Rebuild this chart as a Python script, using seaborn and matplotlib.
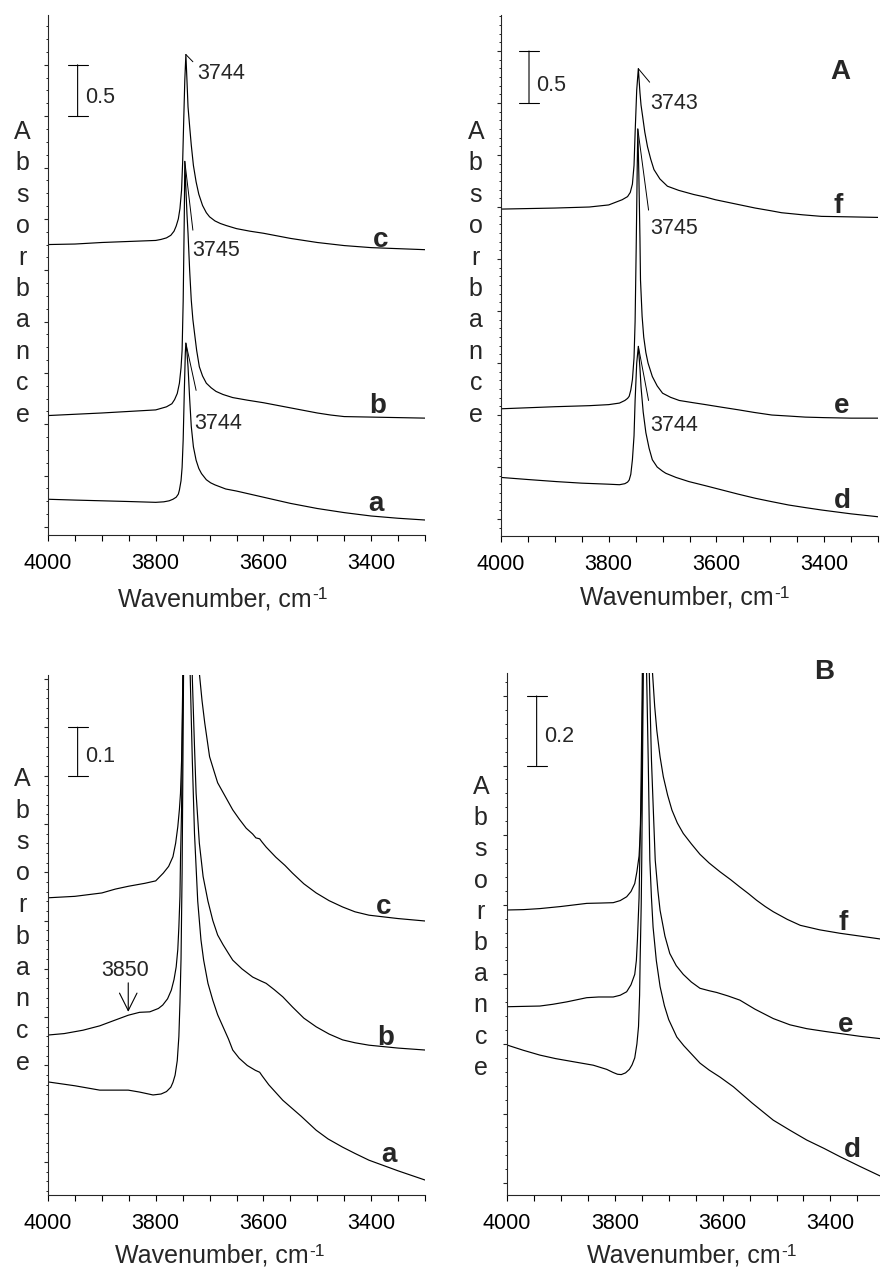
import numpy as np
import pandas as pd
import matplotlib
matplotlib.use("Agg")
import matplotlib.pyplot as plt
import seaborn as sns
from matplotlib.ticker import MultipleLocator, NullFormatter, FixedLocator

# ---------------- data ----------------
# Top-left panel (A, samples a-c)
tl_a_wn = [4000, 3950, 3900, 3850, 3800, 3785, 3775, 3768, 3762, 3758, 3756, 3753, 3751, 3749, 3747, 3745, 3744, 3742, 3740, 3737, 3734, 3730, 3725, 3720, 3715, 3706, 3698, 3690, 3680, 3670, 3650, 3625, 3600, 3575, 3550, 3525, 3500, 3450, 3400, 3350, 3300]
tl_a_ab = [0.27, 0.262, 0.255, 0.248, 0.24, 0.245, 0.255, 0.27, 0.29, 0.32, 0.36, 0.45, 0.58, 0.85, 1.30, 1.70, 1.79, 1.70, 1.56, 1.25, 0.98, 0.78, 0.65, 0.57, 0.52, 0.46, 0.43, 0.41, 0.39, 0.37, 0.35, 0.32, 0.29, 0.26, 0.23, 0.205, 0.18, 0.14, 0.107, 0.085, 0.068]
tl_b_wn = [4000, 3900, 3800, 3780, 3770, 3765, 3760, 3756, 3753, 3751, 3749, 3747, 3746, 3744, 3742, 3740, 3737, 3734, 3731, 3728, 3724, 3719, 3713, 3706, 3697, 3688, 3675, 3657, 3630, 3600, 3575, 3550, 3525, 3500, 3475, 3450, 3400, 3350, 3300]
tl_b_ab = [1.085, 1.11, 1.14, 1.17, 1.20, 1.24, 1.30, 1.40, 1.55, 1.72, 2.2, 3.0, 3.56, 3.3, 3.05, 2.86, 2.5, 2.21, 2.02, 1.89, 1.72, 1.56, 1.47, 1.40, 1.355, 1.32, 1.29, 1.26, 1.235, 1.21, 1.185, 1.16, 1.135, 1.11, 1.09, 1.075, 1.07, 1.065, 1.06]
tl_c_wn = [4000, 3950, 3900, 3850, 3800, 3790, 3780, 3772, 3766, 3762, 3758, 3755, 3752, 3750, 3748, 3746, 3744, 3742, 3740, 3737, 3734, 3730, 3725, 3720, 3713, 3706, 3700, 3690, 3680, 3669, 3650, 3625, 3600, 3575, 3550, 3525, 3500, 3450, 3400, 3350, 3300]
tl_c_ab = [2.75, 2.755, 2.77, 2.78, 2.79, 2.80, 2.815, 2.84, 2.88, 2.93, 3.00, 3.10, 3.28, 3.55, 3.96, 4.35, 4.60, 4.35, 4.09, 3.90, 3.72, 3.52, 3.36, 3.24, 3.13, 3.06, 3.02, 2.98, 2.955, 2.935, 2.905, 2.88, 2.86, 2.835, 2.81, 2.79, 2.77, 2.74, 2.72, 2.71, 2.70]

# Top-right panel (A, samples d-f)
tr_d_wn = [4000, 3950, 3897, 3850, 3800, 3780, 3770, 3765, 3762, 3759, 3756, 3753, 3751, 3748, 3745, 3742, 3740, 3736, 3731, 3725, 3719, 3710, 3700, 3694, 3675, 3651, 3620, 3590, 3560, 3528, 3500, 3466, 3435, 3405, 3350, 3300]
tr_d_ab = [0.40, 0.38, 0.36, 0.345, 0.335, 0.33, 0.34, 0.355, 0.375, 0.43, 0.57, 0.80, 1.14, 1.50, 1.66, 1.45, 1.27, 1.03, 0.83, 0.68, 0.57, 0.50, 0.46, 0.44, 0.40, 0.36, 0.32, 0.28, 0.24, 0.20, 0.17, 0.135, 0.11, 0.087, 0.05, 0.022]
tr_e_wn = [4000, 3950, 3900, 3836, 3800, 3780, 3770, 3765, 3762, 3759, 3756, 3753, 3751, 3749, 3747, 3746, 3744, 3742, 3741, 3738, 3735, 3731, 3727, 3719, 3710, 3700, 3685, 3669, 3645, 3620, 3590, 3559, 3530, 3497, 3465, 3435, 3400, 3350, 3300]
tr_e_ab = [1.06, 1.07, 1.08, 1.09, 1.10, 1.115, 1.14, 1.16, 1.18, 1.24, 1.34, 1.55, 1.90, 2.6, 3.4, 3.75, 3.3, 2.7, 2.30, 1.95, 1.75, 1.60, 1.50, 1.37, 1.28, 1.21, 1.17, 1.14, 1.12, 1.10, 1.075, 1.05, 1.025, 1.00, 0.99, 0.98, 0.975, 0.97, 0.97]
tr_f_wn = [4000, 3950, 3900, 3836, 3800, 3790, 3775, 3765, 3760, 3756, 3753, 3751, 3748, 3745, 3742, 3740, 3737, 3733, 3728, 3722, 3716, 3705, 3691, 3670, 3642, 3620, 3602, 3565, 3528, 3500, 3479, 3440, 3405, 3350, 3300]
tr_f_ab = [2.98, 2.985, 2.99, 3.00, 3.02, 3.04, 3.07, 3.10, 3.14, 3.22, 3.40, 3.71, 4.125, 4.33, 4.10, 3.98, 3.87, 3.72, 3.58, 3.46, 3.36, 3.27, 3.20, 3.16, 3.12, 3.095, 3.07, 3.03, 2.99, 2.965, 2.945, 2.925, 2.91, 2.905, 2.90]

# Bottom-left panel (B, samples a-c)
bl_a_wn = [4000, 3950, 3904, 3851, 3830, 3805, 3790, 3780, 3772, 3768, 3764, 3760, 3757, 3755, 3753, 3751, 3749, 3746, 3744, 3741, 3738, 3736, 3732, 3728, 3722, 3716, 3711, 3703, 3694, 3685, 3675, 3665, 3657, 3645, 3630, 3615, 3607, 3602, 3590, 3564, 3530, 3502, 3480, 3453, 3430, 3404, 3350, 3300]
bl_a_ab = [0.166, 0.158, 0.149, 0.149, 0.145, 0.139, 0.141, 0.146, 0.155, 0.165, 0.18, 0.21, 0.26, 0.33, 0.42, 0.6, 0.9, 1.4, 1.8, 1.5, 1.15, 1.008, 0.83, 0.68, 0.54, 0.46, 0.418, 0.37, 0.335, 0.305, 0.28, 0.255, 0.232, 0.215, 0.20, 0.19, 0.186, 0.178, 0.16, 0.128, 0.095, 0.066, 0.048, 0.031, 0.018, 0.004, -0.018, -0.037]
bl_b_wn = [4000, 3970, 3935, 3904, 3880, 3851, 3830, 3811, 3795, 3787, 3778, 3771, 3766, 3762, 3759, 3757, 3755, 3754, 3752, 3751, 3749, 3746, 3744, 3740, 3736, 3732, 3728, 3725, 3719, 3712, 3703, 3694, 3685, 3675, 3665, 3657, 3640, 3620, 3605, 3595, 3580, 3564, 3546, 3525, 3502, 3478, 3453, 3430, 3404, 3350, 3300]
bl_b_ab = [0.263, 0.266, 0.273, 0.282, 0.292, 0.304, 0.31, 0.311, 0.318, 0.325, 0.338, 0.356, 0.378, 0.404, 0.44, 0.487, 0.55, 0.625, 0.73, 0.832, 1.05, 1.6, 2.50, 1.8, 1.3, 1.00, 0.86, 0.763, 0.66, 0.591, 0.54, 0.50, 0.47, 0.45, 0.432, 0.418, 0.40, 0.383, 0.375, 0.370, 0.357, 0.342, 0.321, 0.298, 0.280, 0.265, 0.253, 0.247, 0.242, 0.236, 0.232]
bl_c_wn = [4000, 3950, 3900, 3875, 3850, 3820, 3800, 3786, 3776, 3768, 3763, 3759, 3756, 3754, 3752, 3751, 3749, 3746, 3744, 3738, 3730, 3724, 3719, 3714, 3709, 3700, 3692, 3685, 3670, 3657, 3645, 3632, 3620, 3614, 3607, 3603, 3595, 3577, 3560, 3546, 3525, 3502, 3478, 3453, 3430, 3404, 3350, 3300]
bl_c_ab = [0.547, 0.55, 0.557, 0.565, 0.571, 0.577, 0.582, 0.598, 0.612, 0.632, 0.66, 0.694, 0.73, 0.763, 0.83, 0.901, 1.05, 1.6, 2.80, 2.0, 1.4, 1.15, 1.012, 0.955, 0.909, 0.839, 0.81, 0.785, 0.755, 0.729, 0.71, 0.691, 0.679, 0.671, 0.669, 0.663, 0.652, 0.631, 0.614, 0.598, 0.576, 0.557, 0.541, 0.528, 0.518, 0.511, 0.504, 0.499]

# Bottom-right panel (B, samples d-f)
br_d_wn = [4000, 3970, 3939, 3910, 3877, 3840, 3815, 3803, 3795, 3788, 3780, 3773, 3768, 3763, 3759, 3756, 3754, 3753, 3751, 3750, 3748, 3746, 3744, 3742, 3741, 3738, 3735, 3732, 3729, 3723, 3716, 3708, 3700, 3685, 3672, 3660, 3642, 3625, 3605, 3580, 3545, 3506, 3475, 3444, 3412, 3382, 3345, 3300]
br_d_ab = [0.397, 0.382, 0.368, 0.358, 0.349, 0.339, 0.327, 0.318, 0.313, 0.312, 0.317, 0.327, 0.34, 0.36, 0.40, 0.45, 0.54, 0.641, 0.80, 0.928, 1.311, 1.7, 2.0, 1.7, 1.465, 1.216, 0.928, 0.82, 0.736, 0.64, 0.565, 0.51, 0.47, 0.42, 0.395, 0.375, 0.345, 0.325, 0.305, 0.277, 0.23, 0.181, 0.152, 0.124, 0.10, 0.076, 0.048, 0.015]
br_e_wn = [4000, 3970, 3939, 3915, 3889, 3852, 3830, 3803, 3790, 3778, 3770, 3763, 3760, 3758, 3755, 3752, 3750, 3748, 3746, 3744, 3740, 3738, 3736, 3732, 3728, 3725, 3720, 3716, 3707, 3698, 3686, 3673, 3658, 3642, 3625, 3611, 3590, 3568, 3540, 3506, 3475, 3444, 3410, 3382, 3345, 3300]
br_e_ab = [0.507, 0.508, 0.509, 0.514, 0.521, 0.533, 0.535, 0.535, 0.54, 0.55, 0.57, 0.60, 0.64, 0.70, 0.82, 1.072, 1.311, 1.60, 2.0, 2.50, 1.9, 1.60, 1.465, 1.216, 1.05, 0.928, 0.84, 0.784, 0.71, 0.66, 0.625, 0.60, 0.578, 0.56, 0.553, 0.548, 0.538, 0.526, 0.50, 0.473, 0.455, 0.444, 0.436, 0.43, 0.422, 0.414]
br_f_wn = [4000, 3970, 3939, 3900, 3852, 3825, 3803, 3790, 3778, 3770, 3763, 3759, 3755, 3753, 3751, 3749, 3747, 3746, 3744, 3740, 3736, 3730, 3726, 3722, 3716, 3710, 3702, 3694, 3684, 3673, 3658, 3642, 3625, 3605, 3585, 3568, 3552, 3537, 3521, 3506, 3480, 3456, 3420, 3382, 3345, 3300]
br_f_ab = [0.785, 0.786, 0.789, 0.795, 0.804, 0.805, 0.806, 0.812, 0.823, 0.838, 0.861, 0.895, 0.94, 1.0, 1.072, 1.311, 1.60, 2.0, 2.50, 2.0, 1.7, 1.465, 1.37, 1.30, 1.225, 1.168, 1.115, 1.072, 1.035, 1.005, 0.975, 0.945, 0.92, 0.895, 0.872, 0.851, 0.832, 0.813, 0.795, 0.78, 0.758, 0.741, 0.728, 0.718, 0.71, 0.70]

# tick labels / annotations
x_tick_labels = [4000, 3800, 3600, 3400]
peak_labels_tl = ["3744", "3745", "3744"]   # c, b, a
peak_labels_tr = ["3743", "3745", "3744"]   # f, e, d
scale_values = [0.5, 0.5, 0.1, 0.2]
shoulder_label = "3850"

# ---------------- style ----------------
sns.set_style("ticks")
plt.rcParams['font.family'] = ['Liberation Sans', 'DejaVu Sans']
plt.rcParams['axes.linewidth'] = 0.8

W, H = 880, 1269
fig = plt.figure(figsize=(W / 100, H / 100), dpi=100)
fig.patch.set_facecolor("white")


def box(l, t, r, b):
    return [l / W, 1 - b / H, (r - l) / W, (b - t) / H]


def make_df(curves):
    rows = []
    for name, wn, ab in curves:
        rows.append(pd.DataFrame({"wavenumber": wn, "absorbance": ab, "sample": name}))
    return pd.concat(rows, ignore_index=True)


panels = [
    dict(box=box(48, 15, 425, 535), xlim=(4000, 3300), ylim=(-0.078, 4.985), major=0.5, minor=0.125,
         curves=[("a", tl_a_wn, tl_a_ab), ("b", tl_b_wn, tl_b_ab), ("c", tl_c_wn, tl_c_ab)]),
    dict(box=box(501, 15, 878, 536), xlim=(4000, 3300), ylim=(-0.163, 4.846), major=0.5, minor=0.5 / 6,
         curves=[("d", tr_d_wn, tr_d_ab), ("e", tr_e_wn, tr_e_ab), ("f", tr_f_wn, tr_f_ab)]),
    dict(box=box(48, 675, 425, 1195), xlim=(4000, 3300), ylim=(-0.068, 1.008), major=0.1, minor=0.02,
         curves=[("a", bl_a_wn, bl_a_ab), ("b", bl_b_wn, bl_b_ab), ("c", bl_c_wn, bl_c_ab)]),
    dict(box=box(507, 673, 880, 1195), xlim=(4000, 3308), ylim=(-0.034, 1.466), major=0.2, minor=0.04,
         curves=[("d", br_d_wn, br_d_ab), ("e", br_e_wn, br_e_ab), ("f", br_f_wn, br_f_ab)]),
]

axes = []
for p in panels:
    ax = fig.add_axes(p["box"])
    df = make_df(p["curves"])
    sns.lineplot(data=df, x="wavenumber", y="absorbance", units="sample", estimator=None,
                 color="black", linewidth=0.85, ax=ax, legend=False)
    ax.set_xlim(*p["xlim"])
    ax.set_ylim(*p["ylim"])
    sns.despine(ax=ax)
    ax.xaxis.set_major_locator(FixedLocator(x_tick_labels))
    ax.xaxis.set_minor_locator(MultipleLocator(50))
    ax.yaxis.set_major_locator(MultipleLocator(p["major"]))
    ax.yaxis.set_minor_locator(MultipleLocator(p["minor"]))
    ax.yaxis.set_major_formatter(NullFormatter())
    ax.tick_params(axis="x", which="both", direction="out", length=4, width=0.8,
                   labelsize=15.5, pad=9, colors="black")
    ax.tick_params(axis="y", which="major", direction="out", length=3.2, width=0.8)
    ax.tick_params(axis="y", which="minor", direction="out", length=1.4, width=0.7)
    ax.set_xlabel("")
    ax.set_ylabel("")
    ax.set_facecolor("white")
    axes.append(ax)

ax_tl, ax_tr, ax_bl, ax_br = axes

# x labels: "Wavenumber, cm" + raised "-1"
fig.canvas.draw()
renderer = fig.canvas.get_renderer()
for left, by in [(118, 606), (580, 605), (115, 1263), (586.7, 1263)]:
    t = fig.text(left / W, 1 - by / H, "Wavenumber, cm", fontsize=18, ha="left", va="baseline")
    bb = t.get_window_extent(renderer=renderer)
    fig.text((bb.x1 + 1) / W, 1 - (by - 7) / H, "-1", fontsize=12.5, ha="left", va="baseline")

# stacked y labels "Absorbance"
for cx, b0, step in [(22.5, 139, 31.4), (475.8, 139, 31.4), (22.5, 786, 31.5), (480.8, 794, 31.2)]:
    for i, ch in enumerate("Absorbance"):
        fig.text(cx / W, 1 - (b0 + i * step) / H, ch, fontsize=18, ha="center", va="baseline")

bold = dict(fontsize=20, fontweight="bold", ha="center", va="baseline")
# curve letters
for ax, items in [
    (ax_tl, [("c", 3382, 2.73), ("b", 3387, 1.107), ("a", 3391, 0.159)]),
    (ax_tr, [("f", 3374, 2.945), ("e", 3368, 1.022), ("d", 3367, 0.103)]),
    (ax_bl, [("c", 3376, 0.513), ("b", 3373, 0.242), ("a", 3367, 0.0006)]),
    (ax_br, [("f", 3377, 0.727), ("e", 3371, 0.435), ("d", 3360, 0.076)]),
]:
    for t, x, y in items:
        ax.text(x, y, t, **bold)

ax_tr.text(3370, 4.23, "A", **bold)
ax_br.text(3412, 1.45, "B", clip_on=False, **bold)


def peak(wn, ab):
    i = int(np.argmax(ab))
    return wn[i], ab[i]


lead = dict(arrowstyle="-", color="black", lw=0.7, shrinkA=0, shrinkB=0)
num = dict(fontsize=15.5, ha="left", va="baseline")

# top-left peak labels
for (wn, ab), lab, end, txt in [
    ((tl_c_wn, tl_c_ab), peak_labels_tl[0], (3731, 4.53), (3722, 4.36)),
    ((tl_b_wn, tl_b_ab), peak_labels_tl[1], (3731, 2.89), (3732, 2.64)),
    ((tl_a_wn, tl_a_ab), peak_labels_tl[2], (3725, 1.33), (3728, 0.951)),
]:
    ax_tl.annotate("", xy=peak(wn, ab), xytext=end, arrowprops=lead)
    ax_tl.text(txt[0], txt[1], lab, **num)

# top-right peak labels
for (wn, ab), lab, end, txt in [
    ((tr_f_wn, tr_f_ab), peak_labels_tr[0], (3724, 4.20), (3722, 3.94)),
    ((tr_e_wn, tr_e_ab), peak_labels_tr[1], (3726, 2.97), (3722, 2.74)),
    ((tr_d_wn, tr_d_ab), peak_labels_tr[2], (3726, 1.14), (3722, 0.846)),
]:
    ax_tr.annotate("", xy=peak(wn, ab), xytext=end, arrowprops=lead)
    ax_tr.text(txt[0], txt[1], lab, **num)

# scale bars
for ax, (bx, y0), val, (lx, ly) in [
    (ax_tl, (3945, 4.0), scale_values[0], (3931.5, 4.125)),
    (ax_tr, (3948, 4.0), scale_values[1], (3934, 4.12)),
    (ax_bl, (3945, 0.8), scale_values[2], (3931, 0.827)),
    (ax_br, (3945, 1.2), scale_values[3], (3931, 1.268)),
]:
    ax.annotate("", xy=(bx, y0), xytext=(bx, y0 + val),
                arrowprops=dict(arrowstyle="|-|,widthA=0.45,widthB=0.45", color="black", lw=0.8,
                                shrinkA=0, shrinkB=0, mutation_scale=16))
    ax.text(lx, ly, f"{val}", **num)

# 3850 shoulder arrow
ax_bl.annotate("", xy=(3851, 0.311), xytext=(3851, 0.371),
               arrowprops=dict(arrowstyle="->,head_length=0.7,head_width=0.35", color="black", lw=0.8,
                               shrinkA=0, shrinkB=0, mutation_scale=18))
ax_bl.text(3857, 0.385, shoulder_label, fontsize=15.5, ha="center", va="baseline")

fig.savefig("out.png", dpi=100, facecolor="white")
